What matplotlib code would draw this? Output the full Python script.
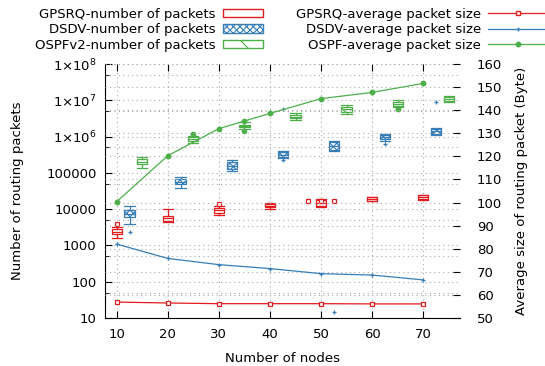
import matplotlib
matplotlib.use("Agg")
import matplotlib.pyplot as plt
from matplotlib.patches import Patch
from matplotlib.lines import Line2D
from matplotlib.ticker import FixedLocator, FuncFormatter
import numpy as np

plt.rcParams['font.family'] = ['DejaVu Sans']
plt.rcParams['font.size'] = 9.5
plt.rcParams['hatch.linewidth'] = 0.8

nodes = [10, 20, 30, 40, 50, 60, 70]

# box stats: whisker low, q1, median, q3, whisker high (number of packets)
gpsrq_whislo = [1600, 4500, 6900, 10000, 11100, 16300, 18400]
gpsrq_q1 = [2050, 4800, 7800, 11500, 12200, 17000, 19000]
gpsrq_med = [2400, 5700, 9200, 12600, 14700, 19000, 21600]
gpsrq_q3 = [2800, 6600, 10700, 13700, 17900, 21200, 23800]
gpsrq_whishi = [3200, 9900, 12200, 15000, 19600, 22300, 25200]
gpsrq_fliers = [[3900], [], [13800], [], [16700, 16700, 16700], [], []]

dsdv_whislo = [3900, 37500, 112000, 257000, 400000, 740000, 1100000]
dsdv_q1 = [6200, 48000, 127000, 273000, 430000, 841000, 1180000]
dsdv_med = [7300, 56000, 155000, 320000, 550000, 973000, 1380000]
dsdv_q3 = [9500, 66000, 193000, 375000, 692000, 1100000, 1600000]
dsdv_whishi = [12200, 75000, 226000, 400000, 754000, 1180000, 1750000]
dsdv_fliers = [[2400], [], [], [226000, 5760000], [14.6], [612000], [8900000]]

ospf_whislo = [133000, 670000, 1580000, 2860000, 4100000, 6650000, 9250000]
ospf_q1 = [175000, 770000, 1800000, 3180000, 4850000, 7070000, 9560000]
ospf_med = [205000, 860000, 1950000, 3520000, 5750000, 8100000, 10800000]
ospf_q3 = [241000, 955000, 2120000, 3930000, 6650000, 9100000, 12500000]
ospf_whishi = [279000, 1040000, 2470000, 4370000, 7400000, 10200000, 13100000]
ospf_fliers = [[], [1150000], [2730000, 1450000], [], [], [5750000], []]

# average packet size (Byte)
gpsrq_avg = [56.9, 56.5, 56.2, 56.2, 56.2, 56.1, 56.1]
dsdv_avg = [82.0, 75.8, 73.1, 71.4, 69.2, 68.6, 66.5]
ospf_avg = [100.4, 120.3, 132.0, 138.6, 145.0, 147.7, 151.6]

red = '#e41a1c'
blue = '#377eb8'
green = '#4daf4a'

fig = plt.figure(figsize=(5.45, 3.66), dpi=100)
ax = fig.add_axes([105/545, 1-318/366, 355/545, 254/366])
ax2 = ax.twinx()

grid_kw = dict(color='#aaaaaa', linestyle=(0, (1, 3)), linewidth=0.8)


def draw_boxes(offset, lo, q1, med, q3, hi, fliers, color, hatch, marker, mfc, ms):
  stats = []
  for i in range(len(nodes)):
    stats.append(dict(whislo=lo[i], q1=q1[i], med=med[i], q3=q3[i], whishi=hi[i], fliers=[]))
  pos = [n+offset for n in nodes]
  ax.bxp(stats, positions=pos, widths=2.0, patch_artist=True, showfliers=False,
         boxprops=dict(facecolor='white', edgecolor=color, linewidth=0.9, hatch=hatch),
         medianprops=dict(color=color, linewidth=0.9),
         whiskerprops=dict(color=color, linewidth=0.9),
         capprops=dict(color=color, linewidth=0.9), capwidths=2.0, zorder=3)
  # outliers, spread sideways when equal (jitter)
  for p, fl in zip(pos, fliers):
    if len(fl) == 0:
      continue
    fl = np.array(fl)
    xs = np.full(len(fl), float(p))
    for v in np.unique(fl):
      idx = np.where(fl == v)[0]
      if len(idx) > 1:
        xs[idx] = p + (np.arange(len(idx)) - (len(idx)-1)/2.0)*2.6
    ax.plot(xs, fl, linestyle='none', marker=marker, color=color, mfc=mfc, ms=ms, mew=0.9, zorder=4)


draw_boxes(0.0, gpsrq_whislo, gpsrq_q1, gpsrq_med, gpsrq_q3, gpsrq_whishi, gpsrq_fliers, red, None, 's', 'white', 3.2)
draw_boxes(2.5, dsdv_whislo, dsdv_q1, dsdv_med, dsdv_q3, dsdv_whishi, dsdv_fliers, blue, 'xxxxx', '+', blue, 3)
draw_boxes(5.0, ospf_whislo, ospf_q1, ospf_med, ospf_q3, ospf_whishi, ospf_fliers, green, '\\', 'o', green, 3.2)

ax.set_yscale('log')
ax.set_ylim(10, 1e8)
ax.set_xlim(7.7, 77.2)
ax.set_xticks(nodes)
ax.xaxis.set_major_formatter(FuncFormatter(lambda v, p: "%d" % v))
ax.yaxis.set_major_locator(FixedLocator([10**k for k in range(1, 9)]))
ax.yaxis.set_minor_locator(FixedLocator([5*10**k for k in range(1, 8)]))
ax.yaxis.set_minor_formatter(FuncFormatter(lambda v, p: ""))


def fmt(v, p):
  k = int(round(np.log10(v)))
  if k >= 6:
    return "1×10$^{%d}$" % k
  return "%d" % round(v)


ax.yaxis.set_major_formatter(FuncFormatter(fmt))
ax.grid(True, axis='x', which='major', **grid_kw)
ax.grid(True, axis='y', which='both', **grid_kw)
ax.set_axisbelow(True)
ax.spines['top'].set_visible(False)
ax.spines['right'].set_visible(False)
ax.tick_params(axis='x', direction='in', top=True, length=5, pad=7)
ax.tick_params(axis='y', which='major', direction='in', length=5, pad=6)
ax.tick_params(axis='y', which='minor', direction='in', length=3)

ax2.plot(nodes, gpsrq_avg, color=red, lw=0.9, marker='s', ms=3.2, mfc='white', mew=0.9, zorder=5)
ax2.plot(nodes, dsdv_avg, color=blue, lw=0.9, marker='+', ms=3, mew=0.9, zorder=5)
ax2.plot(nodes, ospf_avg, color=green, lw=0.9, marker='o', ms=3.2, zorder=5)
ax2.set_ylim(50, 160)
ax2.set_yticks(range(50, 161, 10))
ax2.grid(True, axis='y', **grid_kw)
for s in ['top', 'right', 'left', 'bottom']:
  ax2.spines[s].set_visible(False)
ax2.tick_params(axis='y', direction='in', length=5, pad=12)

ax.set_xlabel("Number of nodes", labelpad=8)
ax.set_ylabel("Number of routing packets", labelpad=16)
ax2.set_ylabel("Average size of routing packet (Byte)", labelpad=9)

box_handles = [Patch(facecolor='white', edgecolor=red),
               Patch(facecolor='white', edgecolor=blue, hatch='xxxxx'),
               Patch(facecolor='white', edgecolor=green, hatch='\\')]
box_labels = ["GPSRQ-number of packets", "DSDV-number of packets", "OSPFv2-number of packets"]
line_handles = [Line2D([], [], color=red, lw=0.9, marker='s', ms=3.2, mfc='white'),
                Line2D([], [], color=blue, lw=0.9, marker='+', ms=3),
                Line2D([], [], color=green, lw=0.9, marker='o', ms=3.2)]
line_labels = ["GPSRQ-average packet size", "DSDV-average packet size", "OSPF-average packet size"]

fig.legend(box_handles, box_labels, loc='upper right', bbox_to_anchor=(270/545, 1-1/366),
           frameon=False, markerfirst=False, borderpad=0, handlelength=3.1, handleheight=0.6,
           handletextpad=0.55, labelspacing=0.2)
fig.legend(line_handles, line_labels, loc='upper right', bbox_to_anchor=(554/545, 1-1/366),
           frameon=False, markerfirst=False, borderpad=0, handlelength=4.5,
           handletextpad=0.55, labelspacing=0.2)

fig.savefig("out.png", dpi=100)
